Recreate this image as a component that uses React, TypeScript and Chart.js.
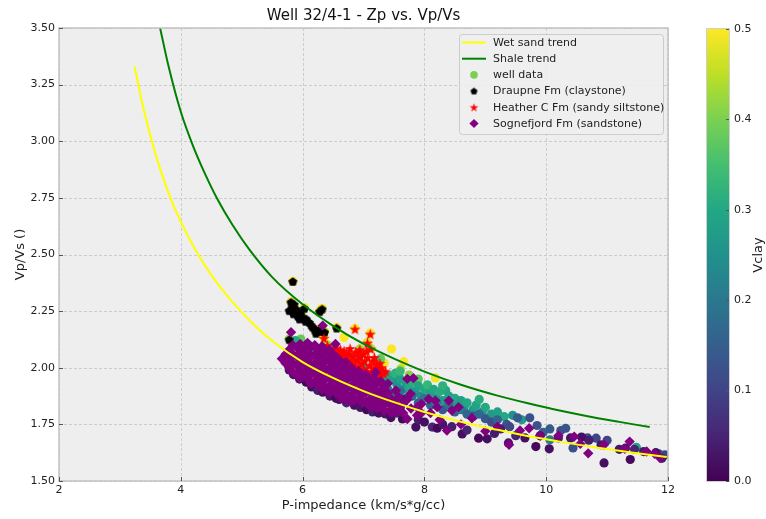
import { useEffect, useRef } from "react";
import { Chart, registerables } from "chart.js";

Chart.register(...registerables);

const TITLE = "Well 32/4-1 - Zp vs. Vp/Vs";
const X_TITLE = "P-impedance (km/s*g/cc)";
const Y_TITLE = "Vp/Vs ()";
const COLORBAR_TITLE = "Vclay";

const X_MIN = 2;
const X_MAX = 12;
const X_STEP = 2;
const Y_MIN = 1.5;
const Y_MAX = 3.5;
const Y_STEP = 0.25;
const VCLAY_MAX = 0.5;
const COLORBAR_TICKS = [0, 0.1, 0.2, 0.3, 0.4, 0.5];

const LEGEND_LABELS = [
  "Wet sand trend",
  "Shale trend",
  "well data",
  "Draupne Fm (claystone)",
  "Heather C Fm (sandy siltstone)",
  "Sognefjord Fm (sandstone)",
];

// Rock-physics trend curves: [Ip, Vp/Vs]
const wetSandTrend: [number, number][] = [
  [3.24, 3.33], [3.4, 3.13], [3.6, 2.93], [3.8, 2.77], [4.0, 2.645], [4.25, 2.515], [4.5, 2.41],
  [4.8, 2.305], [5.2, 2.19], [5.54, 2.11], [6.0, 2.025], [6.5, 1.955], [7.0, 1.897], [7.5, 1.848],
  [8.0, 1.805], [8.6, 1.762], [9.2, 1.726], [9.63, 1.702], [10.2, 1.675], [10.82, 1.648],
  [11.4, 1.626], [11.98, 1.606],
];

const shaleTrend: [number, number][] = [
  [3.66, 3.5], [3.8, 3.33], [4.0, 3.13], [4.2, 2.98], [4.4, 2.855], [4.6, 2.745], [4.85, 2.63],
  [5.13, 2.52], [5.5, 2.4], [6.0, 2.28], [6.5, 2.185], [7.0, 2.105], [7.5, 2.04], [8.0, 1.983],
  [8.6, 1.925], [9.2, 1.877], [9.7, 1.843], [10.2, 1.812], [10.66, 1.787], [11.2, 1.761], [11.7, 1.738],
];

// Well log samples: [Ip, Vp/Vs, Vclay]
const wellData: [number, number, number][] = [
  [5.84, 2.382, 0.5], [5.81, 2.291, 0.49], [5.87, 2.262, 0.5], [6.03, 2.266, 0.5], [6.32, 2.262, 0.5],
  [6.28, 2.25, 0.48], [6.56, 2.178, 0.5], [5.99, 2.226, 0.47], [5.94, 2.249, 0.49], [6.36, 2.16, 0.45],
  [6.23, 2.168, 0.46], [5.78, 2.127, 0.42],
  [6.86, 2.174, 0.5], [7.11, 2.153, 0.5], [7.065, 2.113, 0.48], [7.12, 2.086, 0.46], [6.35, 2.134, 0.5],
  [6.41, 2.101, 0.44], [6.94, 2.083, 0.43], [7.01, 1.94, 0.45], [7.04, 1.91, 0.41],
  [6.68, 2.134, 0.5], [7.46, 2.083, 0.5], [7.34, 2.021, 0.49], [7.66, 2.027, 0.5], [8.18, 1.955, 0.49],
  [7.61, 1.995, 0.44], [7.58, 1.965, 0.4], [7.75, 1.968, 0.41], [5.97, 2.127, 0.38], [5.88, 2.12, 0.3],
  [6.52, 2.075, 0.42], [6.6, 2.06, 0.36], [7.28, 2.04, 0.38], [7.9, 1.95, 0.37],
  [6.55, 2.06, 0.3], [6.75, 2.05, 0.32], [6.9, 2.04, 0.3], [7.2, 2.03, 0.33], [7.0, 2.0, 0.3],
  [6.62, 2.02, 0.28], [6.7, 2.0, 0.3], [6.78, 1.985, 0.25], [6.85, 1.965, 0.27], [6.92, 1.95, 0.24],
  [6.98, 1.94, 0.22], [7.05, 1.955, 0.26], [7.12, 1.945, 0.28], [7.18, 1.965, 0.3], [7.22, 1.935, 0.25],
  [7.25, 1.995, 0.3], [7.3, 1.975, 0.28], [7.35, 1.955, 0.26], [7.42, 1.965, 0.3], [7.48, 1.945, 0.27],
  [7.52, 1.975, 0.32], [7.55, 1.925, 0.25], [7.6, 1.95, 0.28], [7.65, 1.905, 0.24], [7.7, 1.935, 0.27],
  [7.75, 1.915, 0.3], [7.8, 1.94, 0.31], [7.85, 1.895, 0.26], [7.9, 1.92, 0.29], [7.95, 1.875, 0.24],
  [8.0, 1.905, 0.3], [8.05, 1.925, 0.33], [8.1, 1.885, 0.28], [8.15, 1.905, 0.3], [8.2, 1.865, 0.26],
  [8.25, 1.895, 0.31], [8.3, 1.855, 0.27], [8.35, 1.9, 0.3], [8.4, 1.875, 0.29], [8.45, 1.845, 0.25],
  [8.5, 1.865, 0.3], [8.55, 1.835, 0.27], [8.6, 1.855, 0.28], [8.65, 1.825, 0.26], [8.7, 1.845, 0.3],
  [8.8, 1.815, 0.27], [8.85, 1.835, 0.29], [8.95, 1.805, 0.26], [9.0, 1.825, 0.3], [9.1, 1.795, 0.27],
  [9.2, 1.805, 0.28], [9.31, 1.784, 0.3], [9.45, 1.79, 0.25], [9.6, 1.77, 0.27], [8.9, 1.86, 0.31],
  [8.3, 1.92, 0.32], [7.6, 1.985, 0.33],
  [6.8, 1.915, 0.18], [6.95, 1.895, 0.15], [7.1, 1.905, 0.17], [7.25, 1.885, 0.16], [7.4, 1.905, 0.2],
  [7.5, 1.875, 0.15], [7.6, 1.895, 0.18], [7.7, 1.865, 0.14], [7.8, 1.875, 0.17], [7.9, 1.845, 0.15],
  [8.0, 1.865, 0.19], [8.1, 1.835, 0.16], [8.2, 1.845, 0.2], [8.3, 1.815, 0.14], [8.4, 1.835, 0.18],
  [8.5, 1.805, 0.15], [8.6, 1.815, 0.2], [8.7, 1.795, 0.16], [8.8, 1.785, 0.13], [8.9, 1.795, 0.17],
  [9.0, 1.775, 0.14], [9.1, 1.76, 0.12], [9.2, 1.77, 0.16], [9.35, 1.75, 0.13], [9.53, 1.779, 0.14],
  [9.73, 1.779, 0.12], [9.85, 1.745, 0.13], [10.06, 1.73, 0.14], [10.24, 1.723, 0.12], [10.32, 1.733, 0.13],
  [10.44, 1.646, 0.12], [10.82, 1.689, 0.1], [10.68, 1.69, 0.11], [11.0, 1.68, 0.1], [11.48, 1.649, 0.3],
  [11.85, 1.62, 0.12], [11.95, 1.615, 0.1], [9.4, 1.74, 0.11], [10.06, 1.682, 0.2], [9.95, 1.715, 0.15],
  [5.85, 1.97, 0.02], [5.95, 1.95, 0.03], [6.06, 1.936, 0.01], [6.15, 1.915, 0.02], [6.25, 1.9, 0.04],
  [6.33, 1.892, 0.02], [6.45, 1.875, 0.03], [6.55, 1.865, 0.01], [6.6, 1.86, 0.02], [6.72, 1.845, 0.05],
  [6.85, 1.835, 0.02], [6.95, 1.825, 0.03], [7.05, 1.815, 0.01], [7.15, 1.805, 0.04], [7.25, 1.8, 0.02],
  [7.36, 1.796, 0.03], [7.45, 1.78, 0.02], [7.55, 1.8, 0.05], [7.64, 1.774, 0.01], [7.66, 1.859, 0.03],
  [7.86, 1.738, 0.02], [7.9, 1.77, 0.04], [8.0, 1.76, 0.02], [8.13, 1.738, 0.05], [8.21, 1.733, 0.01],
  [8.3, 1.75, 0.03], [8.45, 1.74, 0.04], [8.62, 1.708, 0.02], [8.7, 1.725, 0.05], [8.89, 1.689, 0.01],
  [9.03, 1.686, 0.02], [9.15, 1.71, 0.04], [9.25, 1.73, 0.04], [9.38, 1.668, 0.03], [9.5, 1.7, 0.05],
  [9.65, 1.69, 0.02], [9.83, 1.652, 0.01], [9.9, 1.7, 0.03], [10.05, 1.642, 0.02], [10.2, 1.69, 0.04],
  [10.4, 1.69, 0.03], [10.58, 1.694, 0.02], [10.7, 1.68, 0.04], [10.9, 1.66, 0.03], [10.95, 1.58, 0.02],
  [11.2, 1.64, 0.03], [11.3, 1.645, 0.02], [11.38, 1.595, 0.01], [11.45, 1.64, 0.05], [11.6, 1.63, 0.03],
  [11.8, 1.625, 0.02], [11.9, 1.6, 0.04], [7.3, 1.85, 0.06], [7.45, 1.84, 0.04], [7.6, 1.82, 0.03],
  [5.78, 1.99, 0.03], [6.0, 1.96, 0.05],
];

// Draupne Fm samples: [Ip, Vp/Vs]
const draupne: [number, number][] = [
  [5.84, 2.381], [5.81, 2.289], [5.86, 2.28], [5.78, 2.252], [5.89, 2.245], [5.97, 2.237], [6.03, 2.262],
  [6.06, 2.215], [6.11, 2.2], [6.165, 2.179], [6.26, 2.164], [6.28, 2.248], [6.32, 2.259], [6.36, 2.157],
  [6.56, 2.175], [5.78, 2.124], [5.83, 2.265], [5.92, 2.228], [6.0, 2.222], [5.85, 2.238], [5.95, 2.215],
  [6.14, 2.188], [6.2, 2.17], [6.3, 2.16], [6.22, 2.152], [5.91, 2.255], [6.05, 2.205],
];

// Heather C Fm samples: [Ip, Vp/Vs]
const heather: [number, number][] = [
  [6.86, 2.171], [7.11, 2.149], [7.065, 2.109], [7.12, 2.083], [6.35, 2.13], [6.41, 2.098], [7.01, 1.936],
  [7.04, 1.906], [6.94, 2.08],
  [6.45, 2.085], [6.5, 2.075], [6.55, 2.088], [6.58, 2.065], [6.62, 2.08], [6.65, 2.055], [6.68, 2.075],
  [6.7, 2.045], [6.72, 2.065], [6.75, 2.035], [6.78, 2.06], [6.8, 2.03], [6.83, 2.05], [6.85, 2.015],
  [6.87, 2.07], [6.9, 2.035], [6.92, 2.005], [6.95, 2.05], [6.97, 2.02], [7.0, 1.995], [7.0, 2.06],
  [7.02, 2.03], [7.05, 1.985], [7.07, 2.045], [7.1, 2.01], [7.12, 1.98], [7.15, 2.03], [7.17, 2.0],
  [7.2, 1.975], [7.22, 2.015], [7.25, 1.99], [7.28, 1.97], [7.3, 2.0], [7.33, 1.975], [7.36, 1.985],
  [6.88, 1.995], [6.98, 1.975], [7.08, 1.97], [6.6, 2.04], [6.52, 2.055], [6.42, 2.065], [6.7, 2.02],
  [6.93, 2.07], [7.18, 2.045], [7.27, 2.02], [6.78, 2.085], [7.05, 2.075],
];

// Sognefjord Fm samples: [Ip, Vp/Vs]
const sognefjord: [number, number][] = [
  [5.66, 2.04], [5.72, 2.06], [5.72, 2.02], [5.78, 2.08], [5.78, 2.04], [5.78, 2.0], [5.81, 2.157],
  [5.84, 2.1], [5.84, 2.06], [5.84, 2.02], [5.84, 1.98], [5.9, 2.09], [5.9, 2.05], [5.9, 2.01], [5.9, 1.97],
  [5.96, 2.105], [5.96, 2.065], [5.96, 2.025], [5.96, 1.985], [5.96, 1.955],
  [6.02, 2.09], [6.02, 2.05], [6.02, 2.01], [6.02, 1.97],
  [6.08, 2.11], [6.08, 2.07], [6.08, 2.03], [6.08, 1.99], [6.08, 1.95],
  [6.14, 2.09], [6.14, 2.05], [6.14, 2.01], [6.14, 1.97], [6.14, 1.93],
  [6.2, 2.1], [6.2, 2.06], [6.2, 2.02], [6.2, 1.98], [6.2, 1.94],
  [6.26, 2.08], [6.26, 2.04], [6.26, 2.0], [6.26, 1.96], [6.26, 1.92], [6.33, 2.186],
  [6.32, 2.095], [6.32, 2.055], [6.32, 2.015], [6.32, 1.975], [6.32, 1.935], [6.32, 1.905],
  [6.38, 2.07], [6.38, 2.03], [6.38, 1.99], [6.38, 1.95], [6.38, 1.91],
  [6.44, 2.08], [6.44, 2.04], [6.44, 2.0], [6.44, 1.96], [6.44, 1.92], [6.44, 1.89],
  [6.5, 2.06], [6.5, 2.02], [6.5, 1.98], [6.5, 1.94], [6.5, 1.9], [6.54, 2.105],
  [6.56, 2.045], [6.56, 2.005], [6.56, 1.965], [6.56, 1.925], [6.56, 1.885],
  [6.62, 2.03], [6.62, 1.99], [6.62, 1.95], [6.62, 1.91], [6.62, 1.87],
  [6.68, 2.01], [6.68, 1.97], [6.68, 1.93], [6.68, 1.89], [6.68, 1.86], [6.71, 2.024],
  [6.74, 1.99], [6.74, 1.95], [6.74, 1.91], [6.74, 1.87],
  [6.8, 2.0], [6.8, 1.96], [6.8, 1.92], [6.8, 1.88], [6.8, 1.85],
  [6.86, 1.975], [6.86, 1.935], [6.86, 1.895], [6.86, 1.855],
  [6.92, 1.985], [6.92, 1.945], [6.92, 1.905], [6.92, 1.865],
  [6.98, 1.96], [6.98, 1.92], [6.98, 1.88], [6.98, 1.845],
  [7.04, 1.97], [7.04, 1.93], [7.04, 1.89], [7.04, 1.85],
  [7.1, 1.94], [7.1, 1.9], [7.1, 1.86], [7.1, 1.83],
  [7.16, 1.955], [7.16, 1.915], [7.16, 1.875], [7.16, 1.835], [7.2, 1.98],
  [7.22, 1.93], [7.22, 1.89], [7.22, 1.85], [7.22, 1.82],
  [7.28, 1.94], [7.28, 1.9], [7.28, 1.86], [7.28, 1.825],
  [7.34, 1.915], [7.34, 1.875], [7.34, 1.835], [7.34, 1.81],
  [7.4, 1.93], [7.4, 1.89], [7.4, 1.85], [7.46, 1.86], [7.46, 1.82], [7.46, 1.8],
  [7.53, 1.9], [7.53, 1.84], [7.53, 1.805], [7.58, 1.87], [7.58, 1.82], [7.65, 1.84], [7.65, 1.8],
  [7.72, 1.951], [7.72, 1.86], [7.72, 1.774], [7.77, 1.885], [7.78, 1.82], [7.82, 1.954],
  [7.88, 1.826], [7.88, 1.79], [7.95, 1.84], [7.95, 1.8], [8.07, 1.862], [8.1, 1.8], [8.18, 1.855],
  [8.21, 1.826], [8.25, 1.77], [8.37, 1.723], [8.4, 1.855], [8.45, 1.811], [8.56, 1.826], [8.6, 1.75],
  [8.78, 1.777], [9.0, 1.72], [9.2, 1.74], [9.39, 1.66], [9.57, 1.723], [9.72, 1.733], [9.9, 1.7],
  [10.2, 1.7], [10.46, 1.696], [10.56, 1.664], [10.69, 1.622], [10.95, 1.66], [11.29, 1.642],
  [11.37, 1.674], [11.65, 1.63], [11.78, 1.62], [11.87, 1.601],
];

const FONT = '"DejaVu Sans", "Liberation Sans", sans-serif';
const TEXT_COLOR = "#222222";
const PLOT_BG = "#eeeeee";
const GRID_COLOR = "#cccccc";
const FRAME_COLOR = "#c2c2c2";
const TICK_COLOR = "#555555";
const WET_SAND_COLOR = "#ffff00";
const SHALE_COLOR = "#008000";
const DRAUPNE_COLOR = "#000000";
const HEATHER_COLOR = "#ff0000";
const SOGNEFJORD_COLOR = "#800080";
const WELL_LEGEND_COLOR = "#7ad151";

const VIRIDIS = [
  [68, 1, 84], [72, 36, 117], [65, 68, 135], [53, 95, 141], [42, 120, 142],
  [33, 145, 140], [34, 168, 132], [68, 191, 112], [122, 209, 81], [189, 223, 38], [253, 231, 37],
];

function viridis(t: number): string {
  const u = Math.max(0, Math.min(1, t)) * (VIRIDIS.length - 1);
  const i = Math.min(VIRIDIS.length - 2, Math.floor(u));
  const f = u - i;
  const a = VIRIDIS[i];
  const b = VIRIDIS[i + 1];
  const c = [0, 1, 2].map((k) => Math.round(a[k] + (b[k] - a[k]) * f));
  return `rgb(${c[0]},${c[1]},${c[2]})`;
}

function makeMarker(size: number, draw: (g: CanvasRenderingContext2D, c: number) => void) {
  const cv = document.createElement("canvas");
  cv.width = size;
  cv.height = size;
  const g = cv.getContext("2d")!;
  draw(g, size / 2);
  return cv;
}

function polygon(g: CanvasRenderingContext2D, cx: number, cy: number, radii: number[], n: number) {
  g.beginPath();
  for (let k = 0; k < n; k++) {
    const r = radii[k % radii.length];
    const ang = -Math.PI / 2 + (k * 2 * Math.PI) / n;
    const px = cx + r * Math.cos(ang);
    const py = cy + r * Math.sin(ang);
    if (k === 0) g.moveTo(px, py);
    else g.lineTo(px, py);
  }
  g.closePath();
}

export default function App() {
  const ref = useRef<HTMLCanvasElement>(null);

  useEffect(() => {
    const canvas = ref.current;
    if (!canvas) return;

    const pentagon = makeMarker(11, (g, c) => {
      g.fillStyle = DRAUPNE_COLOR;
      polygon(g, c, c + 0.4, [4.7], 5);
      g.fill();
    });
    const star = makeMarker(13, (g, c) => {
      g.fillStyle = HEATHER_COLOR;
      polygon(g, c, c + 0.6, [5.9, 2.3], 10);
      g.fill();
    });
    const legendPentagon = makeMarker(9, (g, c) => {
      g.fillStyle = DRAUPNE_COLOR;
      polygon(g, c, c + 0.3, [3.7], 5);
      g.fill();
    });
    const legendStar = makeMarker(11, (g, c) => {
      g.fillStyle = HEATHER_COLOR;
      polygon(g, c, c + 0.5, [4.6, 1.8], 10);
      g.fill();
    });

    const chromePlugin = {
      id: "chrome",
      beforeDraw(chart: any) {
        const { ctx, chartArea: a, width, height } = chart;
        ctx.save();
        ctx.fillStyle = "#ffffff";
        ctx.fillRect(0, 0, width, height);
        ctx.fillStyle = PLOT_BG;
        ctx.fillRect(a.left, a.top, a.right - a.left, a.bottom - a.top);
        ctx.restore();
      },
      beforeDatasetsDraw(chart: any) {
        const { ctx, chartArea: a } = chart;
        const xs = chart.scales.x;
        const ys = chart.scales.y;
        ctx.save();
        ctx.strokeStyle = GRID_COLOR;
        ctx.lineWidth = 1;
        ctx.setLineDash([3, 2]);
        xs.ticks.forEach((t: any) => {
          const px = Math.round(xs.getPixelForValue(t.value)) + 0.5;
          ctx.beginPath();
          ctx.moveTo(px, a.top);
          ctx.lineTo(px, a.bottom);
          ctx.stroke();
        });
        ys.ticks.forEach((t: any) => {
          const py = Math.round(ys.getPixelForValue(t.value)) + 0.5;
          ctx.beginPath();
          ctx.moveTo(a.left, py);
          ctx.lineTo(a.right, py);
          ctx.stroke();
        });
        ctx.restore();
      },
      afterDatasetsDraw(chart: any) {
        const { ctx, chartArea: a } = chart;
        const xs = chart.scales.x;
        const ys = chart.scales.y;
        ctx.save();

        // axes frame
        ctx.strokeStyle = FRAME_COLOR;
        ctx.lineWidth = 1.5;
        ctx.strokeRect(a.left, a.top, a.right - a.left, a.bottom - a.top);

        // inward tick marks
        ctx.strokeStyle = TICK_COLOR;
        ctx.lineWidth = 1;
        xs.ticks.forEach((t: any) => {
          const px = Math.round(xs.getPixelForValue(t.value)) + 0.5;
          ctx.beginPath();
          ctx.moveTo(px, a.bottom);
          ctx.lineTo(px, a.bottom - 4);
          ctx.stroke();
        });
        ys.ticks.forEach((t: any) => {
          const py = Math.round(ys.getPixelForValue(t.value)) + 0.5;
          ctx.beginPath();
          ctx.moveTo(a.left, py);
          ctx.lineTo(a.left + 4, py);
          ctx.stroke();
        });

        // titles
        ctx.fillStyle = "#111111";
        ctx.textAlign = "center";
        ctx.textBaseline = "middle";
        ctx.font = `15px ${FONT}`;
        ctx.fillText(TITLE, (a.left + a.right) / 2, 16.5);
        ctx.fillStyle = TEXT_COLOR;
        ctx.font = `13px ${FONT}`;
        ctx.fillText(X_TITLE, (a.left + a.right) / 2, 505.5);
        ctx.save();
        ctx.translate(20.5, (a.top + a.bottom) / 2);
        ctx.rotate(-Math.PI / 2);
        ctx.fillText(Y_TITLE, 0, 0);
        ctx.restore();

        // legend
        const lx = 459.5;
        const ly = 34.5;
        const lw = 204;
        const lh = 100;
        ctx.fillStyle = "rgba(238,238,238,0.85)";
        ctx.strokeStyle = "#cccccc";
        ctx.lineWidth = 1;
        ctx.beginPath();
        (ctx as any).roundRect(lx, ly, lw, lh, 3);
        ctx.fill();
        ctx.stroke();
        const rowY = (i: number) => 42.5 + i * 16.2;
        const hx = 474;
        ctx.lineWidth = 2;
        ctx.strokeStyle = WET_SAND_COLOR;
        ctx.beginPath();
        ctx.moveTo(462, rowY(0));
        ctx.lineTo(486, rowY(0));
        ctx.stroke();
        ctx.strokeStyle = SHALE_COLOR;
        ctx.beginPath();
        ctx.moveTo(462, rowY(1));
        ctx.lineTo(486, rowY(1));
        ctx.stroke();
        ctx.fillStyle = WELL_LEGEND_COLOR;
        ctx.beginPath();
        ctx.arc(hx, rowY(2), 3.8, 0, Math.PI * 2);
        ctx.fill();
        ctx.drawImage(legendPentagon, hx - 4.5, rowY(3) - 4.5);
        ctx.drawImage(legendStar, hx - 5.5, rowY(4) - 5.5);
        ctx.fillStyle = SOGNEFJORD_COLOR;
        ctx.beginPath();
        ctx.moveTo(hx, rowY(5) - 4.6);
        ctx.lineTo(hx + 4.6, rowY(5));
        ctx.lineTo(hx, rowY(5) + 4.6);
        ctx.lineTo(hx - 4.6, rowY(5));
        ctx.closePath();
        ctx.fill();
        ctx.fillStyle = TEXT_COLOR;
        ctx.font = `11px ${FONT}`;
        ctx.textAlign = "left";
        LEGEND_LABELS.forEach((lab, i) => ctx.fillText(lab, 493, rowY(i) + 0.5));

        // colorbar
        const cbLeft = 707;
        const cbRight = 729;
        const cbTop = a.top + 1;
        const cbBottom = a.bottom;
        const grad = ctx.createLinearGradient(0, cbBottom, 0, cbTop);
        VIRIDIS.forEach((c, i) => grad.addColorStop(i / (VIRIDIS.length - 1), `rgb(${c[0]},${c[1]},${c[2]})`));
        ctx.fillStyle = grad;
        ctx.fillRect(cbLeft, cbTop, cbRight - cbLeft, cbBottom - cbTop);
        ctx.strokeStyle = "#cfcfcf";
        ctx.lineWidth = 1;
        ctx.strokeRect(cbLeft - 0.5, cbTop - 0.5, cbRight - cbLeft + 1, cbBottom - cbTop + 1);
        ctx.font = `11px ${FONT}`;
        ctx.textAlign = "left";
        ctx.textBaseline = "middle";
        COLORBAR_TICKS.forEach((v) => {
          const py = cbBottom - (v / VCLAY_MAX) * (cbBottom - cbTop);
          ctx.strokeStyle = TICK_COLOR;
          ctx.beginPath();
          ctx.moveTo(cbRight - 3, Math.round(py) + 0.5);
          ctx.lineTo(cbRight, Math.round(py) + 0.5);
          ctx.stroke();
          ctx.fillStyle = TEXT_COLOR;
          ctx.fillText(v.toFixed(1), 734, py);
        });
        ctx.font = `13px ${FONT}`;
        ctx.textAlign = "center";
        ctx.save();
        ctx.translate(759, (cbTop + cbBottom) / 2);
        ctx.rotate(-Math.PI / 2);
        ctx.fillText(COLORBAR_TITLE, 0, 0);
        ctx.restore();

        ctx.restore();
      },
    };

    const toXY = (p: number[]) => ({ x: p[0], y: p[1] });

    const chart = new Chart(canvas, {
      type: "scatter",
      data: {
        datasets: [
          {
            type: "line",
            label: LEGEND_LABELS[0],
            data: wetSandTrend.map(toXY),
            borderColor: WET_SAND_COLOR,
            borderWidth: 2,
            pointRadius: 0,
            cubicInterpolationMode: "monotone",
            fill: false,
            order: 0,
          },
          {
            type: "line",
            label: LEGEND_LABELS[1],
            data: shaleTrend.map(toXY),
            borderColor: SHALE_COLOR,
            borderWidth: 2,
            pointRadius: 0,
            cubicInterpolationMode: "monotone",
            fill: false,
            order: 0,
          },
          {
            label: LEGEND_LABELS[5],
            data: sognefjord.map(toXY),
            pointStyle: "rectRot",
            pointRadius: 5.2,
            backgroundColor: SOGNEFJORD_COLOR,
            borderWidth: 0,
            order: 1,
          },
          {
            label: LEGEND_LABELS[4],
            data: heather.map(toXY),
            pointStyle: star as any,
            pointRadius: 6,
            borderWidth: 0,
            order: 2,
          },
          {
            label: LEGEND_LABELS[3],
            data: draupne.map(toXY),
            pointStyle: pentagon as any,
            pointRadius: 5,
            borderWidth: 0,
            order: 3,
          },
          {
            label: LEGEND_LABELS[2],
            data: wellData.map(toXY),
            pointStyle: "circle",
            pointRadius: 4.6,
            backgroundColor: wellData.map((p) => viridis(p[2] / VCLAY_MAX)),
            borderWidth: 0,
            order: 4,
          },
        ] as any,
      },
      options: {
        responsive: false,
        maintainAspectRatio: false,
        devicePixelRatio: 1,
        animation: false,
        events: [],
        layout: { padding: { top: 28, right: 98, left: 0, bottom: 0 } },
        plugins: {
          legend: { display: false },
          title: { display: false },
          tooltip: { enabled: false },
        },
        scales: {
          x: {
            type: "linear",
            min: X_MIN,
            max: X_MAX,
            grid: { display: false, drawTicks: false },
            border: { display: false },
            ticks: {
              stepSize: X_STEP,
              padding: 3,
              maxRotation: 0,
              color: TEXT_COLOR,
              font: { family: FONT, size: 11 },
              callback: (v: any) => String(v),
            },
            afterFit: (s: any) => {
              s.height = 38;
            },
          },
          y: {
            type: "linear",
            min: Y_MIN,
            max: Y_MAX,
            grid: { display: false, drawTicks: false },
            border: { display: false },
            ticks: {
              stepSize: Y_STEP,
              padding: 4,
              color: TEXT_COLOR,
              font: { family: FONT, size: 11 },
              callback: (v: any) => Number(v).toFixed(2),
            },
            afterFit: (s: any) => {
              s.width = 59;
            },
          },
        },
      },
      plugins: [chromePlugin],
    });

    return () => chart.destroy();
  }, []);

  return (
    <div style={{ position: "absolute", left: 0, top: 0, width: 766, height: 519, overflow: "hidden" }}>
      <canvas ref={ref} width={766} height={519} style={{ display: "block", width: 766, height: 519 }} />
    </div>
  );
}
